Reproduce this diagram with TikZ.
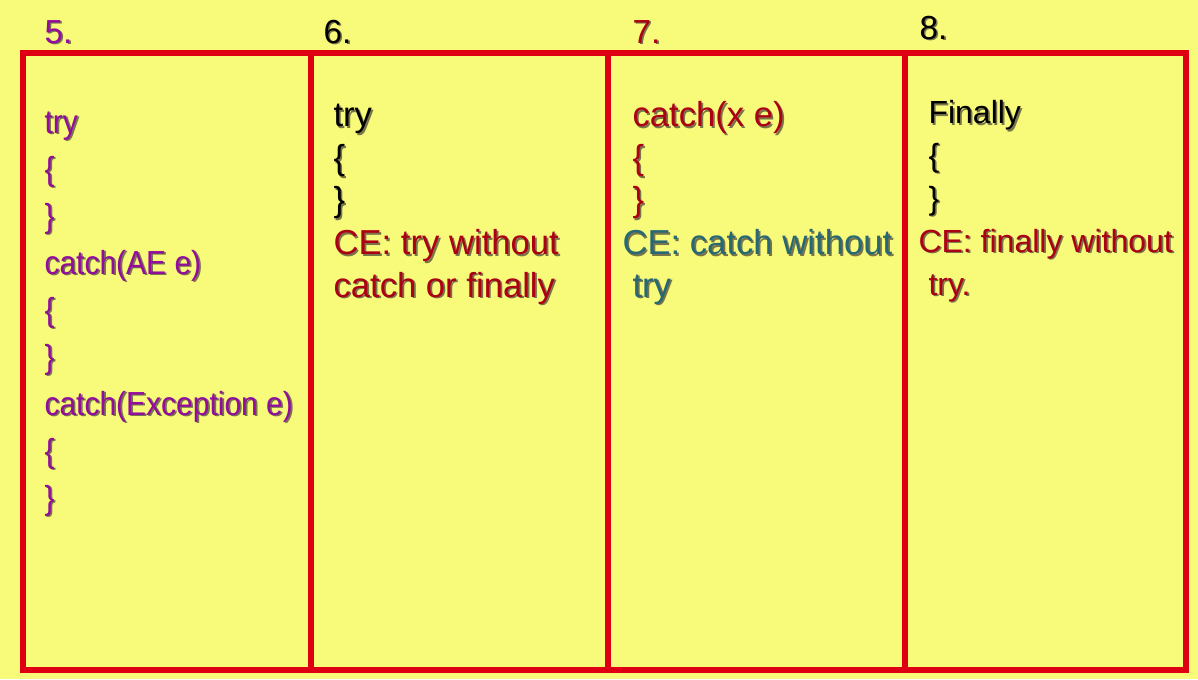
\documentclass[tikz,border=0pt]{standalone}
\usepackage{fontspec}
\setmainfont{Liberation Sans}
\newfontfamily\narrowsans[FakeStretch=0.9]{Liberation Sans}
\definecolor{bgyellow}{RGB}{248,250,122}
\definecolor{boxred}{RGB}{222,0,18}
\definecolor{purp}{RGB}{146,12,158}
\definecolor{darkred}{RGB}{172,0,20}
\definecolor{tealc}{RGB}{40,104,116}
\definecolor{shadowc}{RGB}{120,118,72}
\newcommand{\shtext}[2]{\rlap{\textcolor{shadowc}{\hspace{1.3pt}\raisebox{-1.3pt}{#2}}}\textcolor{#1}{#2}}

\tikzset{every picture/.style={line width=0.75pt}}

\begin{document}
\begin{tikzpicture}[x=0.75pt,y=0.75pt,yscale=-1,xscale=1]
        %set diagram to 1198 x 679
        \useasboundingbox (0,0) rectangle (1198,679) ;
        \fill [bgyellow] (0,0) rectangle (1198,679) ;

        %Shape: Rectangle [outer frame]
        \draw [color=boxred, line width=4.5pt]  (23,53) -- (1186,53) -- (1186,670) -- (23,670) -- cycle ;
        %Straight Lines [dividers]
        \draw [color=boxred, line width=4.5pt]  (311,53) -- (311,670) ;
        \draw [color=boxred, line width=4.5pt]  (608,53) -- (608,670) ;
        \draw [color=boxred, line width=4.5pt]  (905,53) -- (905,670) ;

        %numbers
        \node (num5) at (44,43) [anchor=base west][inner sep=0pt] [font=\fontsize{25}{30}\selectfont] {\shtext{purp}{5.}};
        \node (num6) at (323,43) [anchor=base west][inner sep=0pt] [font=\fontsize{25}{30}\selectfont] {\shtext{black}{6.}};
        \node (num7) at (632,43) [anchor=base west][inner sep=0pt] [font=\fontsize{25}{30}\selectfont] {\shtext{darkred}{7.}};
        \node (num8) at (919,39) [anchor=base west][inner sep=0pt] [font=\fontsize{25}{30}\selectfont] {\shtext{black}{8.}};

        %case 5 (base = last line)
        \node (code5) at (44,509) [anchor=base west][inner sep=0pt] [align=left, font=\narrowsans\fontsize{25}{35.25}\selectfont]
            {\shtext{purp}{try}\\ \shtext{purp}{\{}\\ \shtext{purp}{\}}\\ \shtext{purp}{catch(AE e)}\\ \shtext{purp}{\{}\\ \shtext{purp}{\}}\\
             \shtext{purp}{catch(Exception e)}\\ \shtext{purp}{\{}\\ \shtext{purp}{\}}};
        %case 6
        \node (code6) at (333,297) [anchor=base west][inner sep=0pt] [align=left, font=\fontsize{26}{31.9}\selectfont]
            {\shtext{black}{try}\\ \shtext{black}{\{}\\ \shtext{black}{\}}\\ \shtext{darkred}{CE: try without}\\ \shtext{darkred}{catch or finally}};
        %case 7
        \node (code7) at (622,297) [anchor=base west][inner sep=0pt] [align=left, font=\fontsize{26}{31.9}\selectfont]
            {\hspace*{7.5pt}\shtext{darkred}{catch(x e)}\\ \hspace*{7.5pt}\shtext{darkred}{\{}\\ \hspace*{7.5pt}\shtext{darkred}{\}}\\
             \shtext{tealc}{CE: catch without}\\ \hspace*{7.5pt}\shtext{tealc}{try}};
        %case 8
        \node (code8) at (918,295) [anchor=base west][inner sep=0pt] [align=left, font=\fontsize{24}{32.2}\selectfont]
            {\hspace*{7.5pt}\shtext{black}{Finally}\\ \hspace*{7.5pt}\shtext{black}{\{}\\ \hspace*{7.5pt}\shtext{black}{\}}\\
             \shtext{darkred}{CE: finally without}\\ \hspace*{7.5pt}\shtext{darkred}{try.}};

    \end{tikzpicture}
\end{document}
